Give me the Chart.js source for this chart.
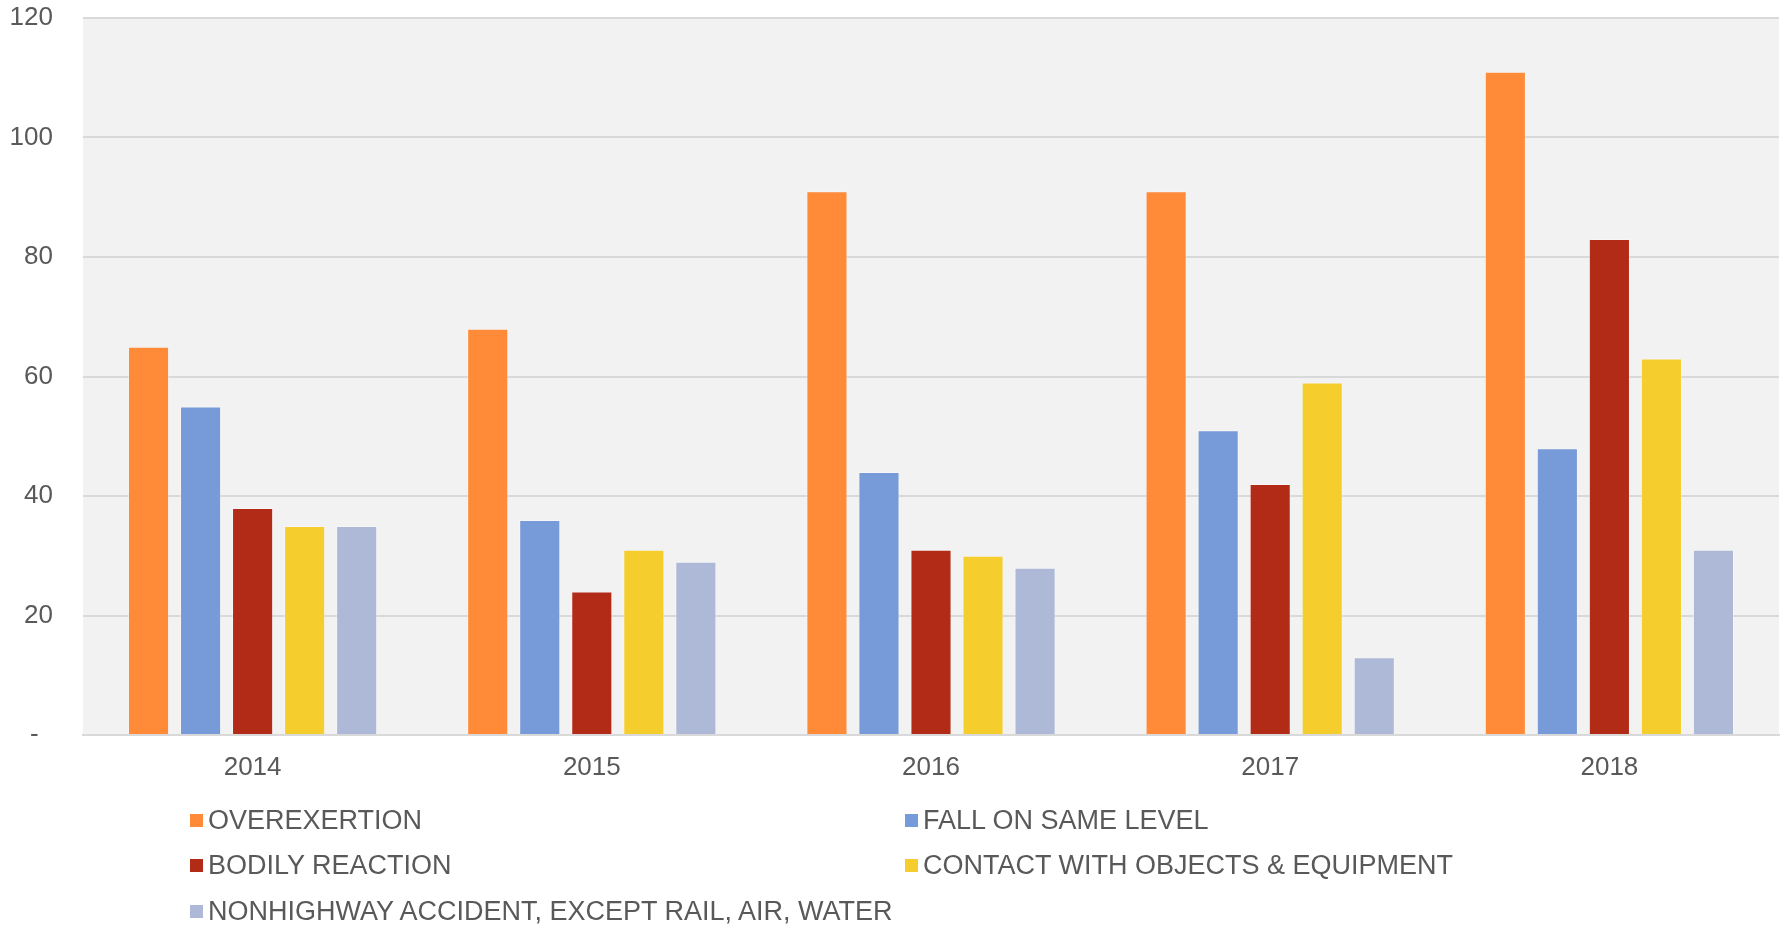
<!DOCTYPE html>
<html>
<head>
<meta charset="utf-8">
<script src="https://cdn.jsdelivr.net/npm/chart.js@4/dist/chart.umd.min.js"></script>
<style>
  html, body { margin: 0; padding: 0; background: #fff; }
  #wrap { position: relative; width: 1783px; height: 928px; }
  #legenda { position: absolute; left: 0; top: 0; width: 1783px; height: 928px; pointer-events: none;
    font-family: "Liberation Sans", Arial, sans-serif; font-size: 27px; color: #595959; }
  .item { position: absolute; display: flex; align-items: center; white-space: nowrap; height: 30px; }
  .item span.marca { display: inline-block; width: 13px; height: 13px; margin-right: 5px; }
</style>
</head>
<body>
<div id="wrap">
  <canvas id="grafico" width="1783" height="928"></canvas>
  <div id="legenda"></div>
</div>
<script>
// Dados
const anos = ['2014', '2015', '2016', '2017', '2018'];
const overexertion = [65, 68, 91, 91, 111];
const fallSameLevel = [55, 36, 44, 51, 48];
const bodilyReaction = [38, 24, 31, 42, 83];
const contactObjects = [35, 31, 30, 59, 63];
const nonhighway = [35, 29, 28, 13, 31];
const ticksY = [0, 20, 40, 60, 80, 100, 120];

const series = [
  { nome: 'OVEREXERTION', valores: overexertion, cor: '#FF8A38' },
  { nome: 'FALL ON SAME LEVEL', valores: fallSameLevel, cor: '#779AD9' },
  { nome: 'BODILY REACTION', valores: bodilyReaction, cor: '#B22B17' },
  { nome: 'CONTACT WITH OBJECTS & EQUIPMENT', valores: contactObjects, cor: '#F5CE2E' },
  { nome: 'NONHIGHWAY ACCIDENT, EXCEPT RAIL, AIR, WATER', valores: nonhighway, cor: '#ADB9D7' }
];

// posição da legenda (duas colunas, como no Excel)
const legendaPos = [[190, 820], [905, 820], [190, 865], [905, 865], [190, 911]];

const FONTE = '"Liberation Sans", Arial, sans-serif';
const COR_TEXTO = '#595959';

// fundo cinza da área do gráfico
const fundoArea = {
  id: 'fundoArea',
  beforeDraw(chart) {
    const { ctx, chartArea: a } = chart;
    ctx.save();
    ctx.fillStyle = '#F2F2F2';
    ctx.fillRect(a.left, a.top, a.right - a.left, a.bottom - a.top);
    ctx.restore();
  }
};

const ctx = document.getElementById('grafico').getContext('2d');
new Chart(ctx, {
  type: 'bar',
  data: {
    labels: anos,
    datasets: series.map(s => ({
      label: s.nome,
      data: s.valores,
      backgroundColor: s.cor,
      borderColor: 'rgba(255,255,255,0.35)',
      borderWidth: 1,
      categoryPercentage: 0.767,
      barPercentage: 0.79
    }))
  },
  options: {
    responsive: false,
    animation: false,
    layout: { padding: { left: 10, right: 4, top: 0, bottom: 148 } },
    plugins: {
      legend: { display: false },
      tooltip: { enabled: false }
    },
    scales: {
      x: {
        afterFit(scale) { scale.height = 45; },
        grid: { display: false, drawTicks: false },
        border: { display: true, color: '#D9D9D9', width: 2 },
        ticks: { color: COR_TEXTO, font: { size: 26, family: FONTE }, padding: 17 }
      },
      y: {
        min: 0,
        max: 120,
        afterBuildTicks(scale) { scale.ticks = ticksY.map(v => ({ value: v })); },
        afterFit(scale) {
          scale.width = 73;
          scale.paddingTop = 18;
          scale.paddingBottom = 0;
        },
        grid: { color: '#D9D9D9', lineWidth: 2, drawTicks: false },
        border: { display: false },
        ticks: {
          color: COR_TEXTO,
          font: { size: 26, family: FONTE },
          padding: 30,
          callback: v => v === 0 ? '-  ' : v
        }
      }
    }
  },
  plugins: [fundoArea]
});

// legenda em HTML
const legenda = document.getElementById('legenda');
series.forEach((s, i) => {
  const el = document.createElement('div');
  el.className = 'item';
  el.style.left = legendaPos[i][0] + 'px';
  el.style.top = (legendaPos[i][1] - 15) + 'px';
  el.innerHTML = `<span class="marca" style="background:${s.cor}"></span>${s.nome.replace('&', '&amp;')}`;
  legenda.appendChild(el);
});
</script>
</body>
</html>
